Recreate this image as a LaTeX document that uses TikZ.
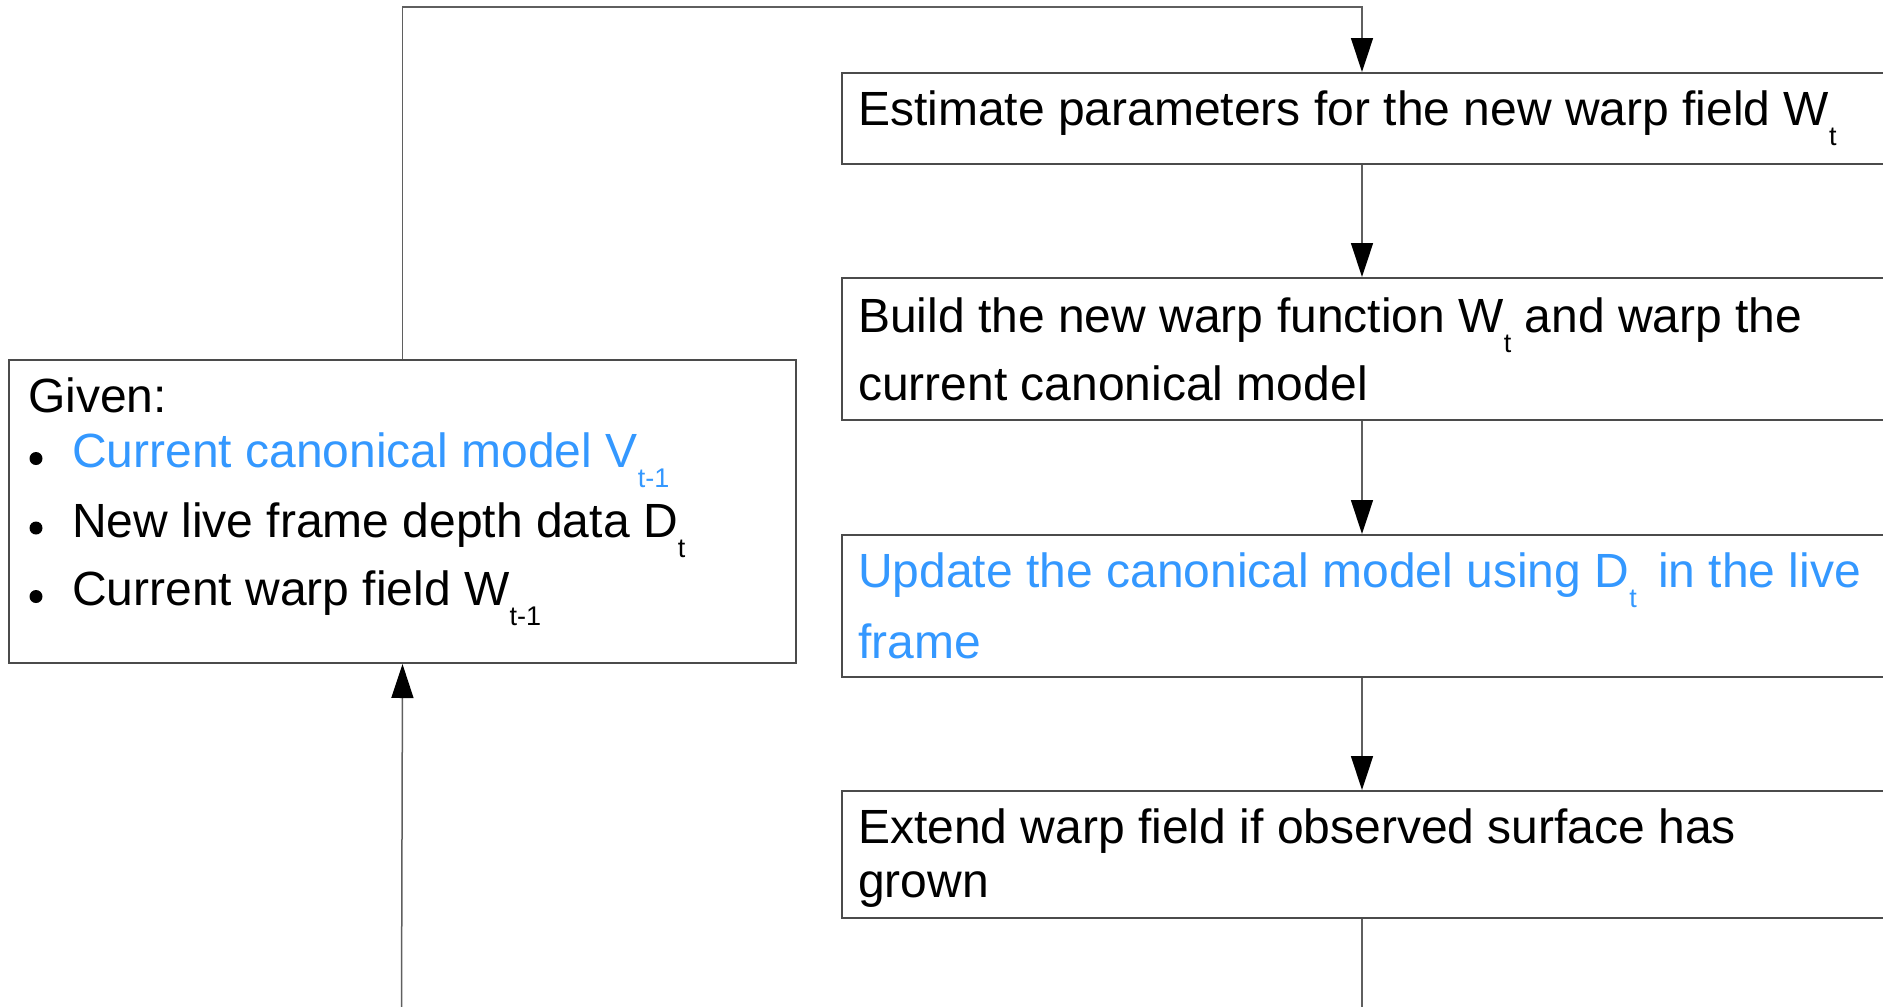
\documentclass[tikz,border=0pt]{standalone}
\usepackage{fontspec}
\setmainfont{Liberation Sans}
\usetikzlibrary{arrows.meta}

\definecolor{stepblue}{RGB}{52,152,255}
\definecolor{framegray}{RGB}{75,75,75}
\definecolor{wiregray}{RGB}{95,95,95}

% lowered index, as used for W_t, D_t, V_{t-1}
\newcommand{\lowsub}[1]{\raisebox{-20pt}{\fontsize{27}{27}\selectfont #1}}

\begin{document}
\begin{tikzpicture}[x=1pt,y=-1pt,
  box/.style={draw=framegray, line width=2pt, rectangle, inner sep=0pt, anchor=north west},
  txt/.style={anchor=base west, inner sep=0pt, font=\fontsize{48}{58}\selectfont},
  wire/.style={draw=wiregray, line width=1.5pt},
  flow/.style={wire, -{Triangle[length=34pt,width=22pt,color=black]}},
  dot/.style={circle, fill=black, inner sep=0pt, minimum size=13pt}
]
\useasboundingbox (0,0) rectangle (1883,1007);
\clip (0,0) rectangle (1883,1007);

% vertical axis of the processing chain
\coordinate (axis) at (1362,0);

% input box
\node[box, minimum width=787pt, minimum height=303pt] (given) at (8,359) {};
\node[txt] (givenhead) at (28,412) {Given:};
\node[dot] (b1) at (36,458.5) {};
\node[txt, text=stepblue] (item1) at (72,467) {Current canonical model V\lowsub{t-1}};
\node[dot] (b2) at (36,528) {};
\node[txt] (item2) at (72,537) {New live frame depth data D\lowsub{t}};
\node[dot] (b3) at (36,596.5) {};
\node[txt] (item3) at (72,605) {Current warp field W\lowsub{t-1}};

% processing steps
\node[box, minimum width=1060pt, minimum height=91pt] (est) at (840.5,72) {};
\node[txt] (esttext) at (858,125) {Estimate parameters for the new warp field W\lowsub{t}};

\node[box, minimum width=1060pt, minimum height=142pt] (build) at (840.5,277) {};
\node[txt] (buildtexta) at (858,332) {Build the new warp function W\lowsub{t} and warp the};
\node[txt] (buildtextb) at (858,400) {current canonical model};

\node[box, minimum width=1060pt, minimum height=142pt] (update) at (840.5,534) {};
\node[txt, text=stepblue] (updatetexta) at (858,587) {Update the canonical model using D\lowsub{t}\hspace{8pt} in the live};
\node[txt, text=stepblue] (updatetextb) at (858,658) {frame};

\node[box, minimum width=1060pt, minimum height=127pt] (extend) at (840.5,790) {};
\node[txt] (extendtexta) at (858,843) {Extend warp field if observed surface has};
\node[txt] (extendtextb) at (858,897) {grown};

% connectors
\coordinate (looptop) at (1362,7);
\coordinate (exitright) at (1362,1012);
\coordinate (entryleft) at (401.5,1012);

\draw[flow] (given.north) |- (looptop) -- (est.north -| axis);
\draw[flow] (est.south -| axis) -- (build.north -| axis);
\draw[flow] (build.south -| axis) -- (update.north -| axis);
\draw[flow] (update.south -| axis) -- (extend.north -| axis);
\draw[wire] (extend.south -| axis) -- (exitright);
\draw[flow] (entryleft) -- (given.south);
\end{tikzpicture}
\end{document}
